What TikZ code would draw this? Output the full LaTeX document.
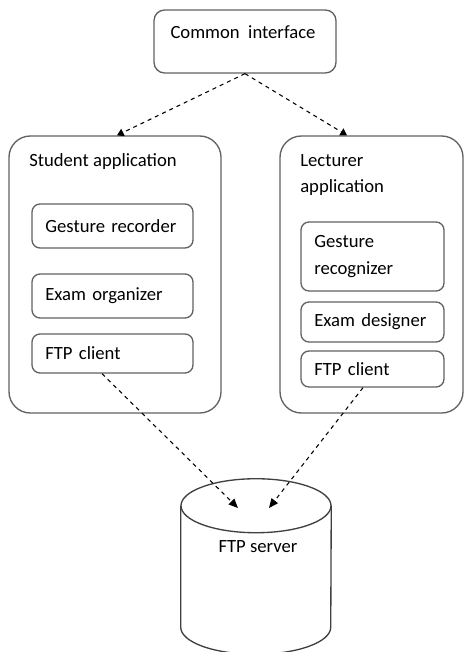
\documentclass[tikz,border=0pt]{standalone}
\usepackage{fontspec}
\setmainfont{Carlito}
\usetikzlibrary{shapes,arrows.meta,positioning,calc}

\begin{document}
\begin{tikzpicture}[x=0.75pt, y=-0.75pt,
    font=\fontsize{14}{20}\selectfont,
    outerbox/.style={draw=black!62, line width=1pt, rounded corners=16pt},
    innerbox/.style={draw=black!62, line width=1pt, rounded corners=6pt, align=left, inner xsep=10pt, inner ysep=0pt},
    titletext/.style={anchor=base west, align=left, inner sep=0pt},
    serverline/.style={draw=black!75, line width=1pt},
    link/.style={dashed, line width=0.8pt, -{Triangle[length=7pt,width=6pt]}}]
    \useasboundingbox (0,0) rectangle (465,652);

    \node[outerbox, rounded corners=8pt, minimum width=136.5pt, minimum height=47.25pt] (common) at (245,41.5) {};
    \node[inner sep=0pt, anchor=base] (commontitle) at (243,39) {Common\ \ interface};

    \node[outerbox, minimum width=159pt, minimum height=207.75pt] (student) at (115,274.5) {};
    \node[titletext] (studenttitle) at (29,167) {Student application};
    \node[innerbox, text width=100.75pt, minimum height=33pt] (recorder) at (112.5,226) {Gesture recorder};
    \node[innerbox, text width=100.75pt, minimum height=33pt] (organizer) at (112.5,296) {Exam organizer};
    \node[innerbox, text width=100.75pt, minimum height=29.25pt] (ftpleft) at (112.5,353.5) {FTP client};

    \node[outerbox, minimum width=137.25pt, minimum height=207.75pt] (lecturer) at (371.5,274.5) {};
    \node[titletext] (lecturertitle) at (300,193) {Lecturer\\application};
    \node[innerbox, text width=87.25pt, minimum height=51.75pt] (recognizer) at (372.5,256.5) {Gesture\\recognizer};
    \node[innerbox, text width=87.25pt, minimum height=30pt] (designer) at (372.5,322) {Exam designer};
    \node[innerbox, text width=87.25pt, minimum height=27pt] (ftpright) at (372.5,369) {FTP client};

    \node[minimum width=112.5pt, minimum height=131.25pt, inner sep=0pt] (server) at (256,566.5) {};
    \draw[serverline] ($(server.north)+(0,27)$) ellipse [x radius=56.25pt, y radius=20.25pt];
    \draw[serverline] ($(server.north west)+(0,27)$) -- ($(server.south west)+(0,-27)$)
        arc[start angle=180, end angle=360, x radius=56.25pt, y radius=20.25pt] -- ($(server.north east)+(0,27)$);
    \node[inner sep=0pt] (servertitle) at (258,547) {FTP server};

    \coordinate (dropleft) at (238,508);
    \coordinate (dropright) at (269,508);

    \draw[link, -{Triangle[length=5pt,width=6pt]}] (common.south) -- ($(student.north)+(2,0)$);
    \draw[link, -{Triangle[length=5pt,width=6pt]}] (common.south) -- ($(lecturer.north)+(-24.5,0)$);
    \draw[link] ($(ftpleft.south)+(-10.5,0)$) -- (dropleft);
    \draw[link] ($(ftpright.south)+(-9.5,0)$) -- (dropright);
\end{tikzpicture}
\end{document}
